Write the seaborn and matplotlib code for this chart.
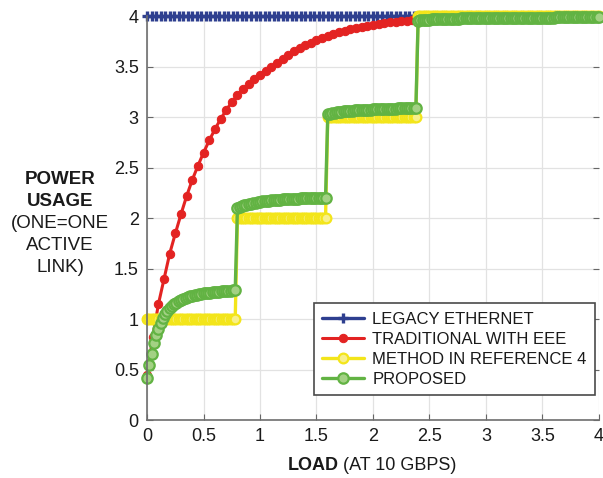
import numpy as np
import pandas as pd
import matplotlib
matplotlib.use("Agg")
import matplotlib.pyplot as plt
import seaborn as sns

# Load axis (units of 10 Gbps)
load_coarse = np.linspace(0, 4, 101)   # 0.04 steps
load_eee = np.linspace(0, 4, 81)       # 0.05 steps
load_fine = np.linspace(0, 4, 201)     # 0.02 steps

legacy = [4.0] * 101

traditional_eee = [
    0.45, 0.82, 1.15, 1.40, 1.65, 1.85, 2.04, 2.22, 2.38, 2.52,
    2.65, 2.77, 2.88, 2.98, 3.07, 3.15, 3.22, 3.28, 3.33, 3.38,
    3.42, 3.46, 3.50, 3.54, 3.58, 3.62, 3.66, 3.69, 3.72, 3.74,
    3.76, 3.78, 3.80, 3.82, 3.84, 3.855, 3.87, 3.88, 3.895, 3.905,
    3.915, 3.925, 3.93, 3.94, 3.945, 3.95, 3.955, 3.96, 3.965, 3.968,
    3.97, 3.972, 3.974, 3.976, 3.978, 3.98, 3.981, 3.982, 3.983, 3.984,
    3.985, 3.986, 3.987, 3.988, 3.989, 3.99, 3.99, 3.991, 3.991, 3.992,
    3.992, 3.993, 3.993, 3.994, 3.994, 3.995, 3.995, 3.996, 3.996, 3.997,
    3.997,
]

reference4 = [
    1, 1, 1, 1, 1, 1, 1, 1, 1, 1, 1, 1, 1, 1, 1, 1, 1, 1, 1, 1,
    1, 1, 1, 1, 1, 1, 1, 1, 1, 1, 1, 1, 1, 1, 1, 1, 1, 1, 1, 1,
    2, 2, 2, 2, 2, 2, 2, 2, 2, 2, 2, 2, 2, 2, 2, 2, 2, 2, 2, 2,
    2, 2, 2, 2, 2, 2, 2, 2, 2, 2, 2, 2, 2, 2, 2, 2, 2, 2, 2, 2,
    3, 3, 3, 3, 3, 3, 3, 3, 3, 3, 3, 3, 3, 3, 3, 3, 3, 3, 3, 3,
    3, 3, 3, 3, 3, 3, 3, 3, 3, 3, 3, 3, 3, 3, 3, 3, 3, 3, 3, 3,
    4, 4, 4, 4, 4, 4, 4, 4, 4, 4, 4, 4, 4, 4, 4, 4, 4, 4, 4, 4,
    4, 4, 4, 4, 4, 4, 4, 4, 4, 4, 4, 4, 4, 4, 4, 4, 4, 4, 4, 4,
    4, 4, 4, 4, 4, 4, 4, 4, 4, 4, 4, 4, 4, 4, 4, 4, 4, 4, 4, 4,
    4, 4, 4, 4, 4, 4, 4, 4, 4, 4, 4, 4, 4, 4, 4, 4, 4, 4, 4, 4,
    4,
]

proposed = [
    0.42, 0.55, 0.66, 0.76, 0.84, 0.90, 0.96, 1.01, 1.05, 1.08,
    1.11, 1.13, 1.15, 1.165, 1.18, 1.19, 1.20, 1.21, 1.22, 1.225,
    1.23, 1.235, 1.24, 1.245, 1.25, 1.255, 1.258, 1.261, 1.264, 1.267,
    1.27, 1.272, 1.274, 1.276, 1.278, 1.28, 1.282, 1.284, 1.286, 1.288,
    2.10, 2.11, 2.12, 2.128, 2.135, 2.14, 2.145, 2.15, 2.155, 2.159,
    2.163, 2.166, 2.169, 2.172, 2.175, 2.177, 2.179, 2.181, 2.183, 2.185,
    2.187, 2.188, 2.19, 2.191, 2.192, 2.193, 2.194, 2.195, 2.196, 2.197,
    2.198, 2.198, 2.199, 2.199, 2.20, 2.20, 2.201, 2.201, 2.202, 2.202,
    3.03, 3.036, 3.041, 3.045, 3.049, 3.052, 3.055, 3.058, 3.06, 3.062,
    3.064, 3.066, 3.068, 3.07, 3.071, 3.072, 3.073, 3.074, 3.075, 3.076,
    3.077, 3.078, 3.079, 3.08, 3.081, 3.082, 3.083, 3.084, 3.085, 3.086,
    3.086, 3.087, 3.087, 3.088, 3.088, 3.089, 3.089, 3.09, 3.09, 3.09,
    3.955, 3.958, 3.961, 3.963, 3.965, 3.967, 3.968, 3.969, 3.97, 3.971,
    3.972, 3.973, 3.974, 3.974, 3.975, 3.976, 3.976, 3.977, 3.977, 3.978,
    3.978, 3.979, 3.979, 3.979, 3.98, 3.98, 3.98, 3.981, 3.981, 3.981,
    3.982, 3.982, 3.982, 3.982, 3.983, 3.983, 3.983, 3.983, 3.984, 3.984,
    3.984, 3.984, 3.984, 3.985, 3.985, 3.985, 3.985, 3.985, 3.986, 3.986,
    3.986, 3.986, 3.986, 3.986, 3.987, 3.987, 3.987, 3.987, 3.987, 3.987,
    3.987, 3.988, 3.988, 3.988, 3.988, 3.988, 3.988, 3.988, 3.988, 3.989,
    3.989, 3.989, 3.989, 3.989, 3.989, 3.989, 3.989, 3.989, 3.99, 3.99,
    3.99,
]

labels = ["LEGACY ETHERNET", "TRADITIONAL WITH EEE",
          "METHOD IN REFERENCE 4", "PROPOSED"]
ticks = [0, 0.5, 1, 1.5, 2, 2.5, 3, 3.5, 4]
tick_labels = ["0", "0.5", "1", "1.5", "2", "2.5", "3", "3.5", "4"]

sns.set_theme(style="whitegrid")
plt.rcParams["font.family"] = ["Liberation Sans", "DejaVu Sans"]

fig = plt.figure(figsize=(6.03, 4.78), dpi=100)
ax = fig.add_axes([0.244, 0.121, 0.749, 0.845])
ax.set_facecolor("white")

blue = "#2e3f8f"
red = "#e32322"
yellow = "#f3e51a"
green = "#62b343"

common = dict(ax=ax, estimator=None, sort=False, clip_on=False)

sns.lineplot(x=load_coarse, y=legacy, color=blue, lw=2.4, marker="+",
             markersize=7.5, markeredgewidth=2.4, markeredgecolor=blue,
             label=labels[0], **common)
sns.lineplot(x=load_eee, y=traditional_eee, color=red, lw=2.2, marker="o",
             markersize=6, markerfacecolor=red, markeredgecolor=red,
             label=labels[1], **common)
sns.lineplot(x=load_fine, y=reference4, color=yellow, lw=2.4, marker="o",
             markersize=7, markerfacecolor="#f8f08a", markeredgecolor=yellow,
             markeredgewidth=1.6, label=labels[2], **common)
sns.lineplot(x=load_fine, y=proposed, color=green, lw=2.4, marker="o",
             markersize=7.5, markerfacecolor="#a3d184", markeredgecolor=green,
             markeredgewidth=1.6, label=labels[3], **common)

ax.set_xlim(0, 4)
ax.set_ylim(0, 4)
ax.set_xticks(ticks)
ax.set_yticks(ticks)
ax.set_xticklabels(tick_labels)
ax.set_yticklabels(tick_labels)
ax.grid(True, color="#e2e2e2", lw=0.9)
ax.tick_params(axis="both", direction="in", length=4, width=0.8,
               colors="#666666", labelcolor="#1a1a1a", labelsize=13,
               pad=6)
ax.tick_params(axis="y", right=True, left=True)
ax.tick_params(axis="x", bottom=True)
for side in ["left", "bottom"]:
    ax.spines[side].set_color("#6e6e6e")
    ax.spines[side].set_linewidth(1.2)
for side in ["top", "right"]:
    ax.spines[side].set_visible(False)
ax.set_xlabel("")
ax.set_ylabel("")

leg = ax.legend(loc="lower right", bbox_to_anchor=(0.992, 0.062),
                borderaxespad=0, fontsize=12, frameon=True, fancybox=False,
                framealpha=1, edgecolor="#4a4a4a", handlelength=2.5,
                handletextpad=0.5, labelspacing=0.3, borderpad=0.5)
leg.get_frame().set_linewidth(1.2)
for t in leg.get_texts():
    t.set_color("#1a1a1a")

# Y axis caption, stacked to the left of the axis
W, H = 603, 478
ylines = [("POWER", "bold", 180), ("USAGE", "bold", 201),
          ("(ONE=ONE", "normal", 223), ("ACTIVE", "normal", 245),
          ("LINK)", "normal", 267)]
for txt, weight, ypx in ylines:
    fig.text(60 / W, 1 - ypx / H, txt, ha="center", va="center",
             fontsize=13.5, fontweight=weight, color="#1a1a1a")

# X axis caption
fig.text(339 / W, 1 - 466 / H, "LOAD", ha="right", va="center",
         fontsize=13, fontweight="bold", color="#1a1a1a")
fig.text(343 / W, 1 - 466 / H, "(AT 10 GBPS)", ha="left", va="center",
         fontsize=13, color="#1a1a1a")

fig.savefig("out.png", dpi=100)
